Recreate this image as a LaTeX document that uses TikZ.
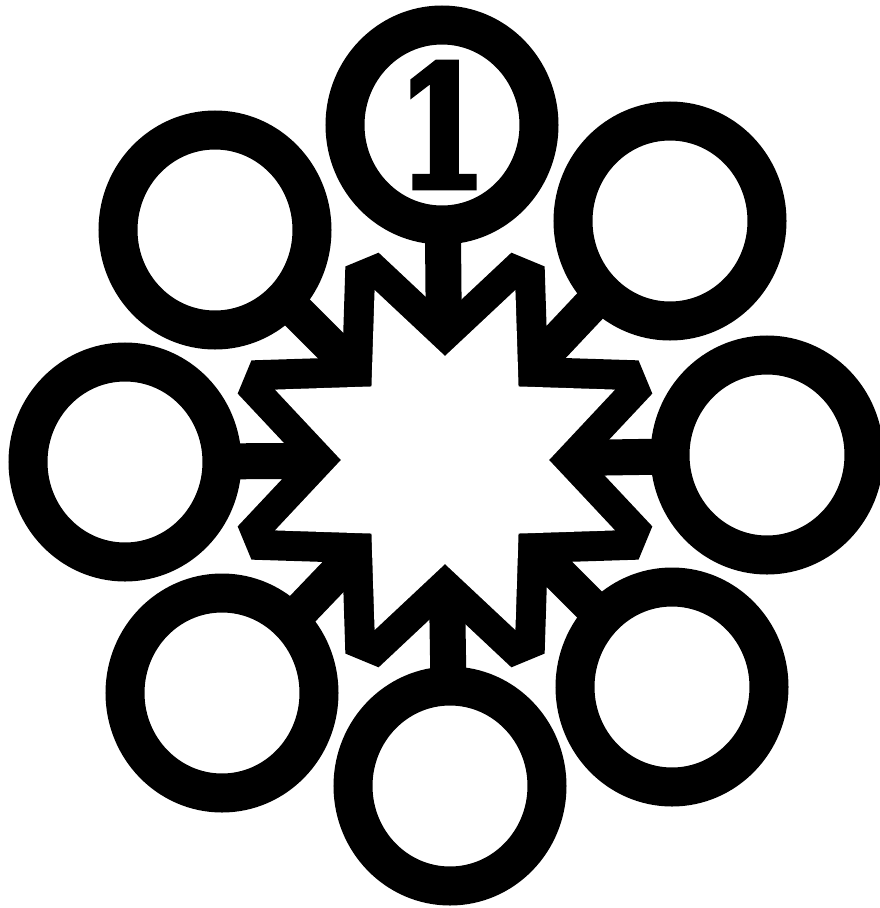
\documentclass[tikz,border=0pt]{standalone}
\usepackage{fontspec}
\newfontfamily\onefont{DejaVuSerif-Bold.ttf}
\newcommand{\heavyone}{\special{pdf:literal direct 2 Tr 7 w 0 0 0 RG}1\special{pdf:literal direct 0 Tr}}
\usetikzlibrary{shapes.geometric,backgrounds}
\begin{document}
\begin{tikzpicture}[x=1pt,y=-1pt,
  ring/.style={ellipse,draw=black,fill=white,line width=39pt,minimum width=194pt,minimum height=200pt,inner sep=0pt},
  link/.style={line width=36pt,draw=black},
  starout/.style={fill=black},
  starin/.style={fill=white}]
\useasboundingbox (0,0) rectangle (880,908);
\node[ring] (n1) at (442,125) {\scalebox{0.74}[0.96]{\onefont\fontsize{174}{174}\selectfont\heavyone}};
\node[ring] (n2) at (670,221) {};
\node[ring] (n3) at (767,455) {};
\node[ring] (n4) at (672,687) {};
\node[ring] (n5) at (450,786) {};
\node[ring] (n6) at (222,693) {};
\node[ring] (n7) at (125,462) {};
\node[ring] (n8) at (215,230) {};
\coordinate (hub) at (445,460);
\begin{pgfonlayer}{background}
\fill[white] (0,0) rectangle (880,908);
\foreach \n in {n1,n2,n3,n4,n5,n6,n7,n8} \draw[link] (\n.center) -- (hub);
\begin{scope}[shift={(hub)}]
\fill[starout] (0:145) -- (17.76:217.7) -- (27.24:217.7) -- (45:145) -- (62.76:217.7) -- (72.24:217.7)
  -- (90:145) -- (107.76:217.7) -- (117.24:217.7) -- (135:145) -- (152.76:217.7) -- (162.24:217.7)
  -- (180:145) -- (197.76:217.7) -- (207.24:217.7) -- (225:145) -- (242.76:217.7) -- (252.24:217.7)
  -- (270:145) -- (287.76:217.7) -- (297.24:217.7) -- (315:145) -- (332.76:217.7) -- (342.24:217.7) -- cycle;
\fill[starin] (0:104) -- (22.5:184) -- (45:104) -- (67.5:184) -- (90:104) -- (112.5:184) -- (135:104) -- (157.5:184)
  -- (180:104) -- (202.5:184) -- (225:104) -- (247.5:184) -- (270:104) -- (292.5:184) -- (315:104) -- (337.5:184) -- cycle;
\end{scope}
\end{pgfonlayer}
\end{tikzpicture}
\end{document}
